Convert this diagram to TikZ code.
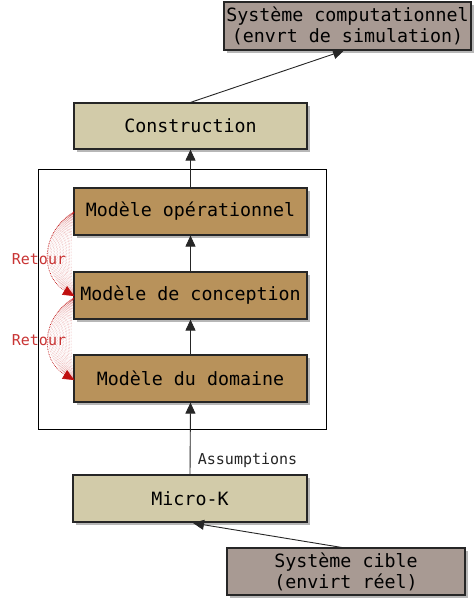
\documentclass[tikz,border=0pt]{standalone}
\usepackage{fontspec}
\setmonofont{DejaVu Sans Mono}
\usetikzlibrary{arrows.meta,shadows}
\definecolor{khaki}{HTML}{D2CBA9}
\definecolor{tan}{HTML}{B8925B}
\definecolor{greyb}{HTML}{A89A93}
\definecolor{retred}{HTML}{C01010}
\begin{document}
\begin{tikzpicture}[x=1pt,y=-1pt,
  box/.style={draw=black!85,line width=1.2pt,inner sep=0pt,align=center,
    font=\ttfamily\fontsize{18.3}{21}\selectfont,
    drop shadow={shadow xshift=3pt,shadow yshift=-3pt,fill=black!35,opacity=0.8}},
  arr/.style={-{Triangle[length=11pt,width=10pt]},line width=0.9pt,black!85},
  rarr/.style={retred,densely dotted,line width=0.7pt,-{Triangle[length=11pt,width=10pt]}},
  fan/.style={retred,opacity=0.4,densely dotted,line width=0.5pt},
  lbl/.style={font=\ttfamily\fontsize{15}{18}\selectfont}]
\useasboundingbox (0,0) rectangle (474,602);
\fill[white] (0,0) rectangle (474,602);
% big frame
\node[draw,line width=1pt,minimum width=288pt,minimum height=260pt,inner sep=0pt] (frame) at (182,299) {};
% boxes
\node[box,fill=greyb,minimum width=247pt,minimum height=48pt] (sc) at (347.5,26) {Système computationnel\\(envrt de simulation)};
\node[box,fill=khaki,minimum width=233pt,minimum height=46pt] (cons) at (190.5,126) {Construction};
\node[box,fill=tan,minimum width=233pt,minimum height=47pt] (op) at (190.5,211.5) {Modèle opérationnel};
\node[box,fill=tan,minimum width=233pt,minimum height=47pt] (conc) at (190.5,295.5) {Modèle de conception};
\node[box,fill=tan,minimum width=233pt,minimum height=47pt] (dom) at (190.5,378.5) {Modèle du domaine};
\node[box,fill=khaki,minimum width=234pt,minimum height=47pt] (mk) at (190,498.5) {Micro-K};
\node[box,fill=greyb,minimum width=238pt,minimum height=47pt] (cible) at (346,571.5) {Système cible\\(envirt réel)};
% arrows
\coordinate (scin) at (344,50.5);
\coordinate (cout) at (345,548);
\coordinate (mkin) at (193,523);
\draw[arr] (cons.north) -- (scin);
\draw[arr] (mk.north) -- node[lbl,right=4pt,pos=0.2] (ass) {Assumptions} (dom.south);
\draw[arr] (dom.north) -- (conc.south);
\draw[arr] (conc.north) -- (op.south);
\draw[arr] (op.north) -- (cons.south);
\draw[arr] (cout) -- (mkin);
% retour curves
\coordinate (r1s) at (74,212);
\coordinate (r1e) at (74,296);
\coordinate (r2s) at (74,298);
\coordinate (r2e) at (74,380);
\foreach \c in {70,68,...,40} {
  \draw[fan] (r1s) .. controls (\c,232) and (\c,276) .. (r1e);
  \draw[fan] (r2s) .. controls (\c,318) and (\c,360) .. (r2e);
}
\draw[rarr] (r1s) .. controls (40,232) and (40,276) .. (r1e);
\draw[rarr] (r2s) .. controls (40,318) and (40,360) .. (r2e);
\node[lbl,text=retred!85] (ret1) at (39,259) {Retour};
\node[lbl,text=retred!85] (ret2) at (39,340) {Retour};
\end{tikzpicture}
\end{document}
